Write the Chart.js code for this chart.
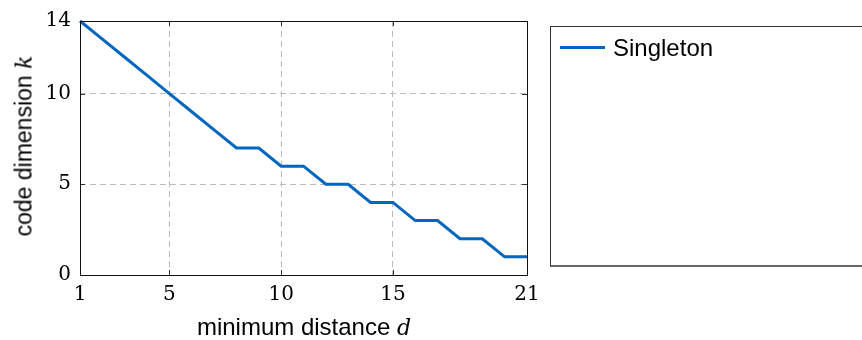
<!DOCTYPE html>
<html>
<head>
<meta charset="utf-8">
<script src="https://cdn.jsdelivr.net/npm/chart.js@4/dist/chart.umd.min.js"></script>
<style>
  html, body { margin:0; padding:0; background:#fff; }
  #wrap { position:relative; width:862px; height:340px; overflow:hidden; }
  #c { position:absolute; left:0; top:0; }
  .ttl { position:absolute; font-family:"Liberation Sans", Arial, sans-serif; font-size:24px; line-height:28px; color:#000; white-space:nowrap; }
  .ttl i { font-family:"DejaVu Serif", "Liberation Serif", serif; font-style:italic; font-size:22px; }
  #xt { left:0; width:608px; top:313px; text-align:center; }
  #yt { left:24px; top:146px; font-size:23px; transform:translate(-50%,-50%) rotate(-90deg); }
  #legend { position:absolute; left:550px; top:26px; width:330px; height:241px; border:1px solid #333; border-bottom:2px solid #666; box-sizing:border-box; }
  #legend .sw { position:absolute; left:9px; top:19px; width:45px; height:3px; background:rgb(0,102,191); }
  #legend .lb { position:absolute; left:62px; top:7px; font-family:"Liberation Sans", Arial, sans-serif; font-size:24px; line-height:normal; color:#000; }
</style>
</head>
<body>
<div id="wrap">
  <canvas id="c" width="862" height="340"></canvas>
  <div class="ttl" id="xt">minimum distance <i>d</i></div>
  <div class="ttl" id="yt">code dimension <i>k</i></div>
  <div id="legend"><div class="sw"></div><div class="lb">Singleton</div></div>
</div>
<script>
const seriesName = "Singleton";
const distances = [1,2,3,4,5,6,7,8,9,10,11,12,13,14,15,16,17,18,19,20,21];
const dimensions = [14,13,12,11,10,9,8,7,7,6,6,5,5,4,4,3,3,2,2,1,1];
const xTicks = [1,5,10,15,21];
const yTicks = [0,5,10,14];

const frame = {
  id:'frame',
  afterDraw(chart){
    const {ctx, chartArea:a, scales:{x,y}} = chart;
    ctx.save();
    ctx.strokeStyle = '#333';
    ctx.lineWidth = 1;
    ctx.beginPath();
    xTicks.forEach(v=>{ const px=Math.round(x.getPixelForValue(v))+0.5;
      ctx.moveTo(px,a.bottom); ctx.lineTo(px,a.bottom-5);
      ctx.moveTo(px,a.top); ctx.lineTo(px,a.top+5); });
    yTicks.forEach(v=>{ const py=Math.round(y.getPixelForValue(v))+0.5;
      ctx.moveTo(a.left,py); ctx.lineTo(a.left+5,py);
      ctx.moveTo(a.right,py); ctx.lineTo(a.right-5,py); });
    ctx.stroke();
    ctx.strokeStyle = '#111';
    ctx.strokeRect(Math.round(a.left)+0.5, Math.round(a.top)+0.5, Math.round(a.right-a.left), Math.round(a.bottom-a.top));
    ctx.restore();
  }
};

new Chart(document.getElementById('c'), {
  type:'line',
  data:{ datasets:[{ label:seriesName,
    data: distances.map((d,i)=>({x:d, y:dimensions[i]})),
    borderColor:'rgb(0,102,191)', borderWidth:3, pointRadius:0, tension:0, fill:false, clip:false }]},
  options:{
    responsive:false, animation:false, maintainAspectRatio:false,
    layout:{ padding:{ top:18, right:335, left:0, bottom:0 } },
    plugins:{ legend:{display:false}, tooltip:{enabled:false} },
    scales:{
      x:{ type:'linear', min:1, max:21,
        afterBuildTicks(s){ s.ticks = xTicks.map(v=>({value:v})); },
        afterFit(s){ s.height = 65; },
        grid:{ color:'#bbb', lineWidth:1, drawTicks:false, tickLength:0 },
        border:{ display:false, dash:[6,4] },
        ticks:{ autoSkip:false, maxRotation:0, padding:8, color:'#000',
          font:{ family:'"DejaVu Serif", "Liberation Serif", serif', size:20 } } },
      y:{ type:'linear', min:0, max:14,
        afterBuildTicks(s){ s.ticks = yTicks.map(v=>({value:v})); },
        afterFit(s){ s.width = 80; },
        grid:{ color:'#bbb', lineWidth:1, drawTicks:false, tickLength:0 },
        border:{ display:false, dash:[6,4] },
        ticks:{ autoSkip:false, padding:9, color:'#000',
          font:{ family:'"DejaVu Serif", "Liberation Serif", serif', size:20 } } }
    }
  },
  plugins:[frame]
});
</script>
</body>
</html>
